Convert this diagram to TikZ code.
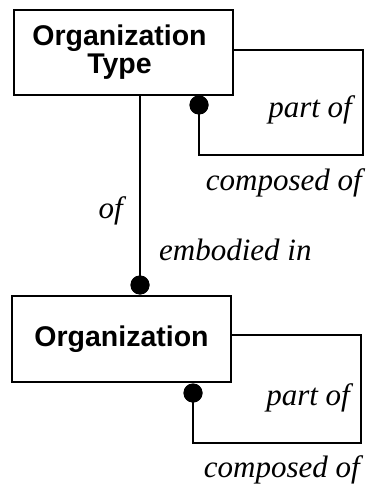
\documentclass[tikz,border=0pt]{standalone}
\usepackage{fontspec}
\setmainfont{Liberation Serif}
\setsansfont{Liberation Sans}
\begin{document}
\begin{tikzpicture}[x=1pt,y=-1pt,
  entity/.style={draw,line width=2.4pt,inner sep=0pt,align=center,
    font=\sffamily\bfseries\fontsize{28.5}{28}\selectfont},
  blob/.style={circle,fill,inner sep=0pt,minimum size=19pt},
  rel/.style={line width=2.2pt},
  lbl/.style={font=\itshape\fontsize{31}{33}\selectfont,inner sep=0pt}]
\useasboundingbox (0,0) rectangle (367,486);

% entities
\node[entity,minimum width=219pt,minimum height=85pt] (t) at (123.5,52.5)
  {Organization\hspace*{8pt}\\Type\hspace*{8pt}};
\node[entity,minimum width=219pt,minimum height=86pt] (o) at (121.5,339)
  {Organization};

% relationship end points
\node[blob] (d1) at (199,105) {};
\node[blob] (d2) at (140,285) {};
\node[blob] (d3) at (193,393) {};
\coordinate (c1) at (363,155);
\coordinate (c2) at (361,443);

% recursive relationship on Organization Type
\draw[rel] ([yshift=2.5pt]t.east) -| (c1) -| (d1.center);
% Organization Type to Organization
\draw[rel] (d2 |- t.south) -- (d2.center);
% recursive relationship on Organization
\draw[rel] ([yshift=4pt]o.east) -| (c2) -| (d3.center);

% redraw end points on top of the lines
\fill (d1) circle (9.5pt);
\fill (d2) circle (9.5pt);
\fill (d3) circle (9.5pt);

% role names
\node[lbl,anchor=base east] (l1) at (352,118) {part of};
\node[lbl,anchor=base east] (l2) at (362,190) {composed of};
\node[lbl,anchor=base east] (l3) at (123,218) {of};
\node[lbl,anchor=base west] (l4) at (159,260) {embodied in};
\node[lbl,anchor=base east] (l5) at (350,405) {part of};
\node[lbl,anchor=base east] (l6) at (360,477) {composed of};
\end{tikzpicture}
\end{document}
